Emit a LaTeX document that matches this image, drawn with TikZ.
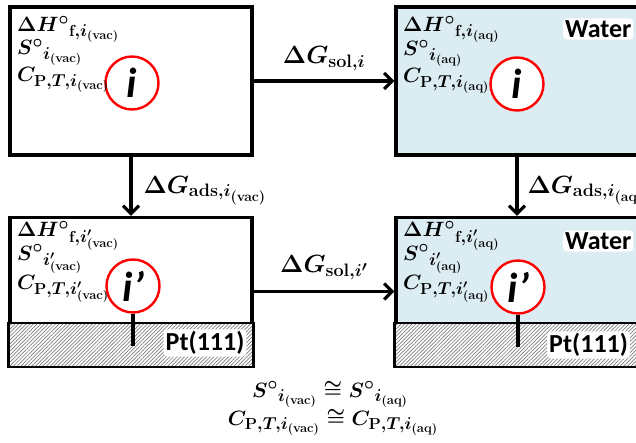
\documentclass[tikz,border=0pt]{standalone}
\usepackage{amsmath,amssymb}
\usepackage{fontspec}
\newfontfamily\calfont{Carlito}
\usetikzlibrary{arrows.meta,patterns.meta}

\definecolor{waterblue}{RGB}{219,236,243}
\DeclareMathSizes{21}{21}{16}{13}
\DeclareMathSizes{24}{24}{18}{14}

\newcommand{\Hprop}[2]{$\Delta H^{\circ}{}_{\textbf{f},#1_{(\textbf{#2})}}$}
\newcommand{\Sprop}[2]{$S^{\circ}{}_{#1_{(\textbf{#2})}}$}
\newcommand{\Cprop}[2]{$C_{\textbf{P},T,#1_{(\textbf{#2})}}$}

\tikzset{
  box/.style={draw, line width=3.2pt, minimum width=242pt, minimum height=148pt, inner sep=0pt},
  mol/.style={circle, draw=red, line width=2.4pt, fill=white, minimum size=53pt, inner sep=0pt,
    font=\calfont\bfseries\itshape\fontsize{42}{42}\selectfont},
  prop/.style={anchor=base west, inner sep=0pt, font=\fontsize{21}{25}\selectfont\boldmath},
  dg/.style={inner sep=0pt, font=\fontsize{24}{28}\selectfont\boldmath},
  tag/.style={fill=white, rounded corners=4pt, inner sep=2pt, font=\calfont\bfseries\fontsize{26}{28}\selectfont},
  arr/.style={line width=3.2pt, -{Straight Barb[length=8pt,width=16pt]}},
  stem/.style={line width=3.2pt},
  hatch/.style={draw, line width=2.4pt, preaction={fill=white},
    pattern={Lines[angle=45,distance=2.6pt,line width=0.7pt]}, pattern color=gray}
}

\begin{document}
\begin{tikzpicture}[x=1pt,y=1pt]
  \clip (0,0) rectangle (636,442);

  % boxes
  \node[box, fill=white] (vacbox) at (131,361) {};
  \node[box, fill=waterblue] (aqbox) at (517,361) {};
  \node[box, fill=white] (vacadsbox) at (131,150.5) {};
  \node[box, fill=waterblue] (aqadsbox) at (517,150.5) {};

  % surface
  \draw[hatch] (vacadsbox.south west) rectangle ([yshift=44pt]vacadsbox.south east);
  \draw[hatch] (aqadsbox.south west) rectangle ([yshift=44pt]aqadsbox.south east);

  % molecules
  \node[mol] (imol) at (132,359) {i};
  \node[mol] (iaqmol) at (517,358) {i};
  \node[mol] (jmol) at (133,156) {i’};
  \node[mol] (jaqmol) at (518,155) {i’};
  \draw[stem] (jmol.south) -- ++(0,-32);
  \draw[stem] (jaqmol.south) -- ++(0,-32);

  % properties
  \node[prop] (hvac) at (17,410) {\Hprop{i}{vac}};
  \node[prop] (svac) at (17,387) {\Sprop{i}{vac}};
  \node[prop] (cvac) at (17,360) {\Cprop{i}{vac}};
  \node[prop] (haq) at (403,410) {\Hprop{i}{aq}};
  \node[prop] (saq) at (403,386) {\Sprop{i}{aq}};
  \node[prop] (caq) at (403,359) {\Cprop{i}{aq}};
  \node[prop] (hvacads) at (17,205) {\Hprop{i'}{vac}};
  \node[prop] (svacads) at (17,182) {\Sprop{i'}{vac}};
  \node[prop] (cvacads) at (17,153) {\Cprop{i'}{vac}};
  \node[prop] (haqads) at (403,205) {\Hprop{i'}{aq}};
  \node[prop] (saqads) at (403,182) {\Sprop{i'}{aq}};
  \node[prop] (caqads) at (403,153) {\Cprop{i'}{aq}};

  % labels
  \node[tag, anchor=west] (wtop) at (563,413) {Water};
  \node[tag, anchor=west] (wbot) at (563,201) {Water};
  \node[tag] (ptleft) at (205,99) {Pt(111)};
  \node[tag, anchor=west] (ptright) at (547,97) {Pt(111)};

  % steps
  \draw[arr] (vacbox) -- node[dg, midway, anchor=base, yshift=17pt] {$\Delta G_{\textbf{sol},i}$} (aqbox);
  \draw[arr] (vacadsbox) -- node[dg, midway, anchor=base, yshift=19pt] {$\Delta G_{\textbf{sol},i'}$} (aqadsbox);
  \draw[arr] (vacbox) -- node[dg, midway, anchor=base west, xshift=11pt, yshift=-7pt] {$\Delta G_{\textbf{ads},i_{(\textbf{vac})}}$} (vacadsbox);
  \draw[arr] (aqbox) -- node[dg, midway, anchor=base west, xshift=9pt, yshift=-7pt] {$\Delta G_{\textbf{ads},i_{(\textbf{aq})}}$} (aqadsbox);

  % approximations
  \node[prop, anchor=base] (seq) at (330,45) {$S^{\circ}{}_{i_{(\textbf{vac})}} \cong S^{\circ}{}_{i_{(\textbf{aq})}}$};
  \node[prop, anchor=base] (ceq) at (333,17) {$C_{\textbf{P},T,i_{(\textbf{vac})}} \cong C_{\textbf{P},T,i_{(\textbf{aq})}}$};
\end{tikzpicture}
\end{document}
